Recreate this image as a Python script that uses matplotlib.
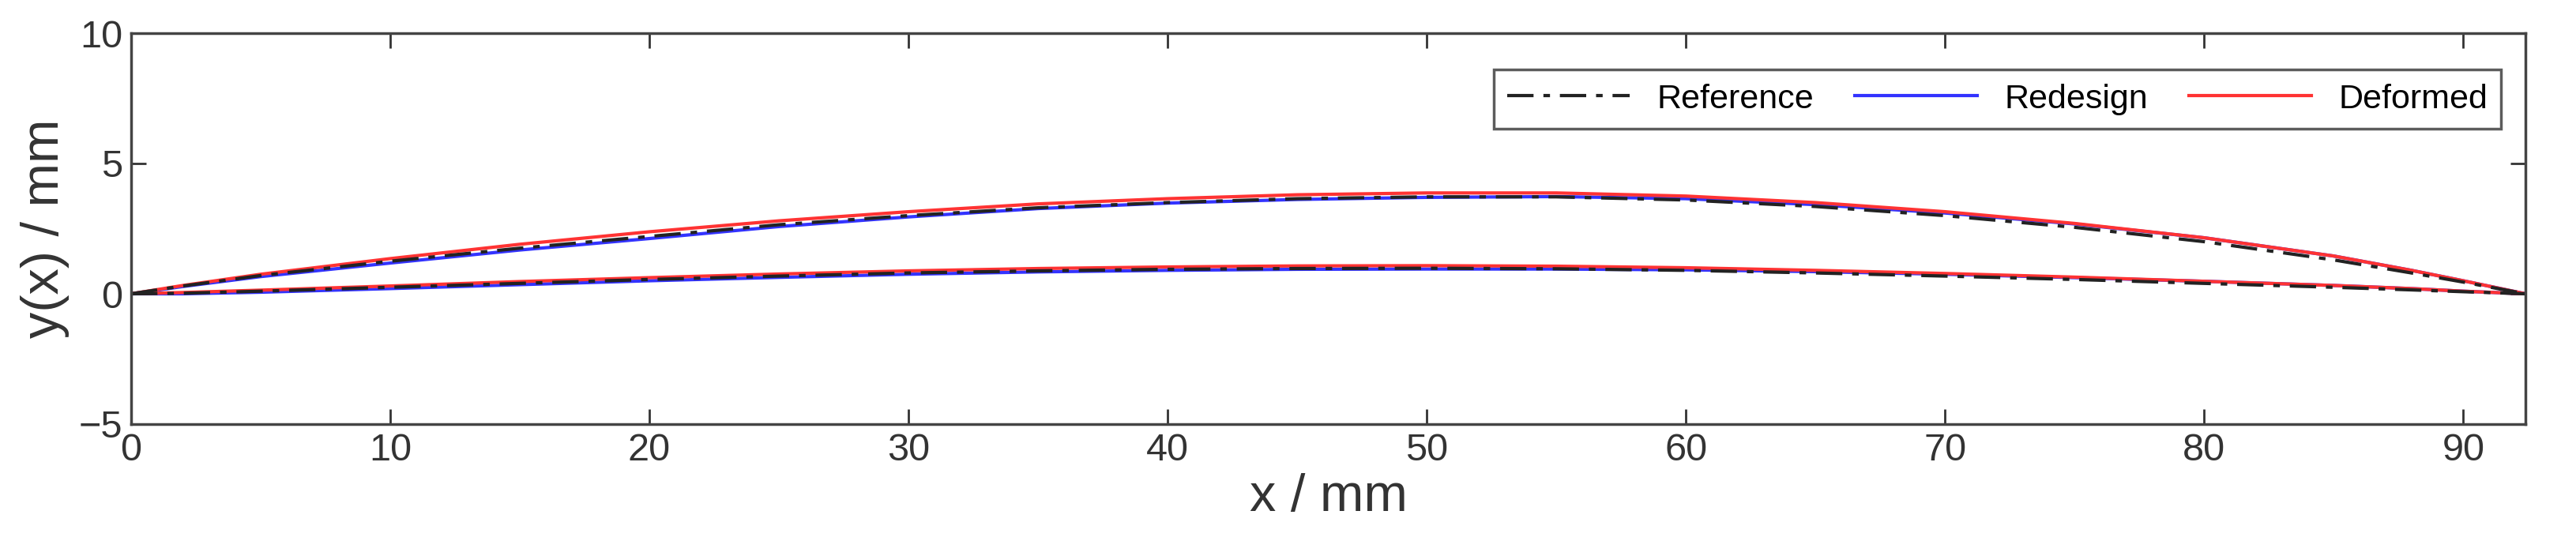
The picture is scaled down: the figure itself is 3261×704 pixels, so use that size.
import matplotlib
matplotlib.use("Agg")
import matplotlib.pyplot as plt
import numpy as np

plt.rcParams['font.family'] = ['Liberation Sans', 'DejaVu Sans']

x_up = [0, 2, 5, 10, 15, 20, 25, 30, 35, 40, 45, 50, 55, 60, 65, 70, 75, 80, 85, 88, 90, 92.4]
ref_up = [0, 0.3, 0.7, 1.25, 1.75, 2.2, 2.65, 3.0, 3.3, 3.5, 3.65, 3.72, 3.72, 3.6, 3.35, 3.0, 2.55, 2.0, 1.3, 0.8, 0.45, 0.0]
red_up = [0, 0.32, 0.75, 1.35, 1.9, 2.38, 2.8, 3.15, 3.45, 3.65, 3.8, 3.87, 3.87, 3.75, 3.5, 3.15, 2.7, 2.15, 1.45, 0.9, 0.5, 0.0]
blu_up = [0, 0.28, 0.66, 1.18, 1.68, 2.12, 2.58, 2.95, 3.27, 3.48, 3.62, 3.7, 3.73, 3.65, 3.42, 3.1, 2.68, 2.15, 1.45, 0.9, 0.5, 0.0]

x_lo = [0, 2, 5, 10, 15, 20, 25, 30, 35, 40, 45, 50, 55, 60, 65, 70, 75, 80, 85, 88, 90, 92.4]
ref_lo = [0, 0.02, 0.1, 0.25, 0.4, 0.55, 0.68, 0.8, 0.88, 0.94, 0.97, 0.98, 0.96, 0.9, 0.8, 0.68, 0.55, 0.4, 0.25, 0.15, 0.08, 0.0]
red_lo = [0, 0.05, 0.14, 0.3, 0.47, 0.62, 0.76, 0.88, 0.97, 1.03, 1.07, 1.08, 1.06, 1.0, 0.9, 0.78, 0.64, 0.48, 0.32, 0.2, 0.1, 0.0]
blu_lo = [0, 0.0, 0.06, 0.2, 0.35, 0.5, 0.63, 0.75, 0.84, 0.9, 0.94, 0.95, 0.95, 0.92, 0.85, 0.75, 0.62, 0.48, 0.32, 0.2, 0.1, 0.0]

fig = plt.figure(figsize=(32.62, 7.04), dpi=100)
ax = fig.add_axes([166/3262, 1-537/704, (3197-166)/3262, (537-42)/704])

ax.plot(x_up, blu_up, color='#3333ff', lw=3, label='Redesign')
ax.plot(x_lo, blu_lo, color='#3333ff', lw=3)
ax.plot(x_up, red_up, color='#ff3333', lw=3, label='Deformed')
ax.plot(x_lo, red_lo, color='#ff3333', lw=3)
ax.plot(x_up, ref_up, color='#222222', lw=3, ls=(0, (8, 3, 2, 3)), label='Reference')
ax.plot(x_lo, ref_lo, color='#222222', lw=3, ls=(0, (8, 3, 2, 3)))

ax.set_xlim(0, 92.4)
ax.set_ylim(-5, 10)
ax.set_xticks(range(0, 91, 10))
ax.set_yticks([-5, 0, 5, 10])
ax.set_yticklabels(['\u22125', '0', '5', '10'])
ax.tick_params(direction='in', length=14, width=2, labelsize=35, top=True, right=True, colors='#333333', labelcolor='#333333', pad=8)
for s in ax.spines.values():
    s.set_linewidth(2.5)
    s.set_color('#444444')
ax.set_xlabel('x / mm', fontsize=48, color='#333333', labelpad=4)
ax.set_ylabel('y(x) / mm', fontsize=48, color='#333333', labelpad=8)

h, l = ax.get_legend_handles_labels()
order = [2, 0, 1]
leg = ax.legend([h[i] for i in order], [l[i] for i in order], loc='upper right', ncol=3,
                fontsize=31, frameon=True, fancybox=False, edgecolor='#333333',
                bbox_to_anchor=(0.997, 0.95), handlelength=3.6, columnspacing=1.2, borderpad=0.4)
leg.get_frame().set_linewidth(2.5)

fig.savefig('out.png', dpi=100)
